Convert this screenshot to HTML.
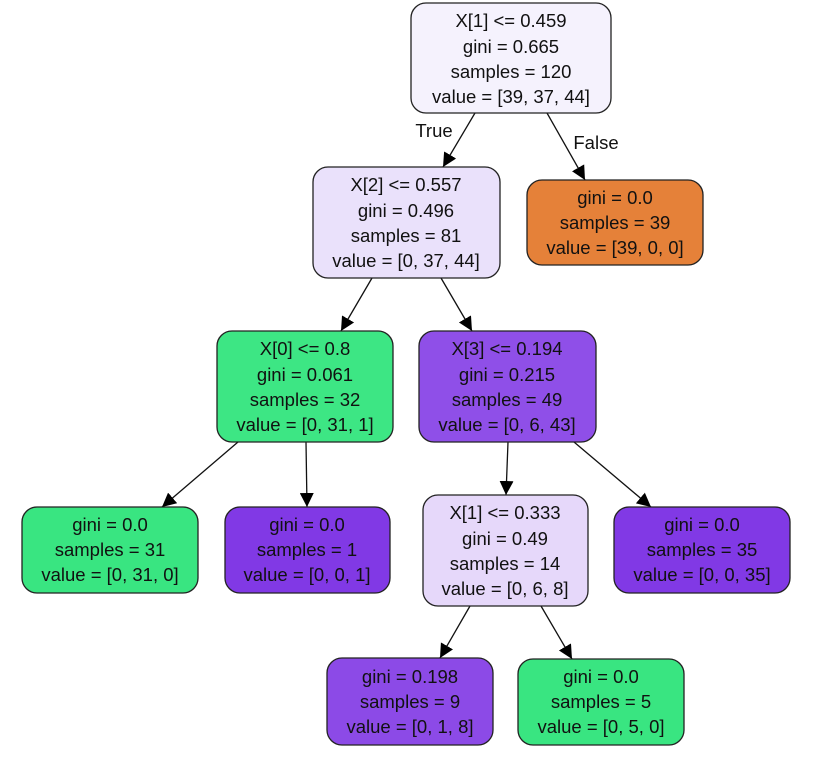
<!DOCTYPE html>
<html><head><meta charset="utf-8"><style>
html,body{margin:0;padding:0;background:#fff;width:831px;height:757px;overflow:hidden}
text{font-family:"Liberation Sans",Arial,sans-serif;font-size:18.5px;fill:#111;text-anchor:middle}
rect{stroke:#222;stroke-width:1.3}
line{stroke:#111;stroke-width:1.3}
</style></head><body>
<svg width="831" height="757" viewBox="0 0 831 757" xmlns="http://www.w3.org/2000/svg">
<defs><marker id="a" viewBox="0 0 10 10" refX="10" refY="5" markerWidth="14" markerHeight="14" markerUnits="userSpaceOnUse" orient="auto"><path d="M0,0 L10,5 L0,10 z" fill="#000"/></marker></defs>
<!-- edges -->
<line x1="475" y1="113" x2="443" y2="167" marker-end="url(#a)"/>
<line x1="547" y1="113" x2="585" y2="180" marker-end="url(#a)"/>
<line x1="372" y1="278" x2="341" y2="331" marker-end="url(#a)"/>
<line x1="441" y1="278" x2="472" y2="331" marker-end="url(#a)"/>
<line x1="238" y1="442" x2="162" y2="507" marker-end="url(#a)"/>
<line x1="306" y1="442" x2="307" y2="507" marker-end="url(#a)"/>
<line x1="508" y1="442" x2="506" y2="495" marker-end="url(#a)"/>
<line x1="574" y1="442" x2="651" y2="507" marker-end="url(#a)"/>
<line x1="470" y1="606" x2="440" y2="658" marker-end="url(#a)"/>
<line x1="541" y1="606" x2="572" y2="659" marker-end="url(#a)"/>
<text x="434" y="137">True</text>
<text x="596" y="149">False</text>
<!-- nodes -->
<rect x="411" y="3" width="200" height="110" rx="15" fill="#f5f2fd"/>
<text x="511" y="27">X[1] &lt;= 0.459</text><text x="511" y="53">gini = 0.665</text><text x="511" y="78">samples = 120</text><text x="511" y="103">value = [39, 37, 44]</text>

<rect x="313" y="167" width="187" height="111" rx="15" fill="#eae1fb"/>
<text x="406" y="191">X[2] &lt;= 0.557</text><text x="406" y="217">gini = 0.496</text><text x="406" y="242">samples = 81</text><text x="406" y="267">value = [0, 37, 44]</text>

<rect x="527" y="180" width="176" height="85" rx="15" fill="#e58139"/>
<text x="615" y="204">gini = 0.0</text><text x="615" y="229">samples = 39</text><text x="615" y="254">value = [39, 0, 0]</text>

<rect x="217" y="331" width="176" height="111" rx="15" fill="#3de684"/>
<text x="305" y="355">X[0] &lt;= 0.8</text><text x="305" y="381">gini = 0.061</text><text x="305" y="406">samples = 32</text><text x="305" y="431">value = [0, 31, 1]</text>

<rect x="419" y="331" width="177" height="111" rx="15" fill="#8f4fe8"/>
<text x="507" y="355">X[3] &lt;= 0.194</text><text x="507" y="381">gini = 0.215</text><text x="507" y="406">samples = 49</text><text x="507" y="431">value = [0, 6, 43]</text>

<rect x="22" y="507" width="176" height="86" rx="15" fill="#39e581"/>
<text x="110" y="531">gini = 0.0</text><text x="110" y="556">samples = 31</text><text x="110" y="581">value = [0, 31, 0]</text>

<rect x="225" y="507" width="165" height="86" rx="15" fill="#8139e5"/>
<text x="307" y="531">gini = 0.0</text><text x="307" y="556">samples = 1</text><text x="307" y="581">value = [0, 0, 1]</text>

<rect x="423" y="495" width="165" height="111" rx="15" fill="#e6d8fa"/>
<text x="505" y="519">X[1] &lt;= 0.333</text><text x="505" y="545">gini = 0.49</text><text x="505" y="570">samples = 14</text><text x="505" y="595">value = [0, 6, 8]</text>

<rect x="614" y="507" width="176" height="86" rx="15" fill="#8139e5"/>
<text x="702" y="531">gini = 0.0</text><text x="702" y="556">samples = 35</text><text x="702" y="581">value = [0, 0, 35]</text>

<rect x="327" y="658" width="166" height="87" rx="15" fill="#8c4ae7"/>
<text x="410" y="683">gini = 0.198</text><text x="410" y="708">samples = 9</text><text x="410" y="733">value = [0, 1, 8]</text>

<rect x="518" y="659" width="166" height="86" rx="15" fill="#39e581"/>
<text x="601" y="683">gini = 0.0</text><text x="601" y="708">samples = 5</text><text x="601" y="733">value = [0, 5, 0]</text>
</svg>
</body></html>
